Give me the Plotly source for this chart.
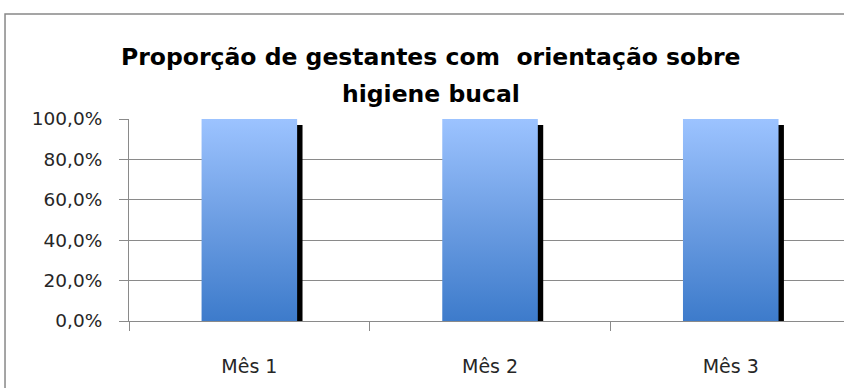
import plotly.graph_objects as go

# Data
months = ["Mês 1", "Mês 2", "Mês 3"]
proportion = [100.0, 100.0, 100.0]  # % of pregnant women with oral-hygiene guidance
y_ticks = [0, 20, 40, 60, 80, 100]
y_tick_text = [f"{v:.1f}".replace(".", ",") + "%" for v in y_ticks]
title_lines = ["Proporção de gestantes com \u00a0orientação sobre", "higiene bucal"]

# Styling constants
BAR_W = 0.397          # bar width in category units
SHADOW_DX = 0.0224     # shadow shift to the right (category units)
SHADOW_DROP = 3.0      # shadow drop (percentage points)
GRID = "#8a8a8a"
FONT = "DejaVu Sans"

# Plot-area geometry in pixels (for placing the title lines)
PLOT_TOP, PLOT_BOTTOM = 119, 321


def paper_y(px):
    return (PLOT_BOTTOM - px) / (PLOT_BOTTOM - PLOT_TOP)


fig = go.Figure()

pos = list(range(len(months)))

# Drop shadow behind each bar
fig.add_trace(go.Bar(
    x=pos, y=proportion, base=[-SHADOW_DROP] * len(pos),
    width=BAR_W, offset=-BAR_W / 2 + SHADOW_DX,
    marker=dict(color="#000000", line=dict(width=0)),
    hoverinfo="skip", showlegend=False,
))

# Bars with a vertical gradient fill (filled polygons built from the data)
bx, by = [], []
for i, v in zip(pos, proportion):
    bx += [i - BAR_W / 2, i + BAR_W / 2, i + BAR_W / 2, i - BAR_W / 2, i - BAR_W / 2, None]
    by += [0, 0, v, v, 0, None]
fig.add_trace(go.Scatter(
    x=bx, y=by, mode="lines", fill="toself",
    line=dict(width=0, color="rgba(0,0,0,0)"),
    fillgradient=dict(type="vertical",
                      colorscale=[[0, "#3d7bcb"], [0.5, "#6d9ee3"], [1, "#9cc3ff"]]),
    hoverinfo="skip", showlegend=False,
))

# Chart frame
fig.add_shape(type="rect", xref="paper", yref="paper",
              x0=-0.1734, x1=1.2, y0=-1.0, y1=paper_y(14),
              line=dict(color="#888888", width=1.5), layer="below")

# Two-line title
for text, cy in zip(title_lines, [57, 94]):
    fig.add_annotation(
        text=f"<b>{text}</b>", xref="paper", yref="paper",
        x=(431 - 129) / 715, y=paper_y(cy), xanchor="center", yanchor="middle",
        showarrow=False, font=dict(family=FONT, size=23.5, color="#000000"),
    )

fig.update_layout(
    width=844, height=388,
    margin=dict(l=129, r=0, t=PLOT_TOP, b=388 - PLOT_BOTTOM),
    paper_bgcolor="white", plot_bgcolor="white",
    barmode="overlay",
    font=dict(family=FONT, color="#262626"),
    xaxis=dict(
        range=[-0.5, 2.4705],
        tickmode="array", tickvals=pos, ticktext=months,
        ticks="", showgrid=False, zeroline=False,
        showline=True, linecolor=GRID, linewidth=1,
        ticklabelstandoff=28,
        tickfont=dict(family=FONT, size=19, color="#262626"),
        minor=dict(tickmode="array", tickvals=[-0.5, 0.5, 1.5, 2.5],
                   ticks="outside", ticklen=9, tickcolor=GRID, tickwidth=1,
                   showgrid=False),
    ),
    yaxis=dict(
        range=[0, 100],
        tickmode="array", tickvals=y_ticks, ticktext=y_tick_text,
        ticks="outside", ticklen=9, tickcolor=GRID, tickwidth=1,
        showgrid=True, gridcolor=GRID, gridwidth=1,
        zeroline=False, showline=True, linecolor=GRID, linewidth=1,
        ticklabelstandoff=13,
        tickfont=dict(family=FONT, size=18.5, color="#262626"),
    ),
)

fig.write_html("out.html")
